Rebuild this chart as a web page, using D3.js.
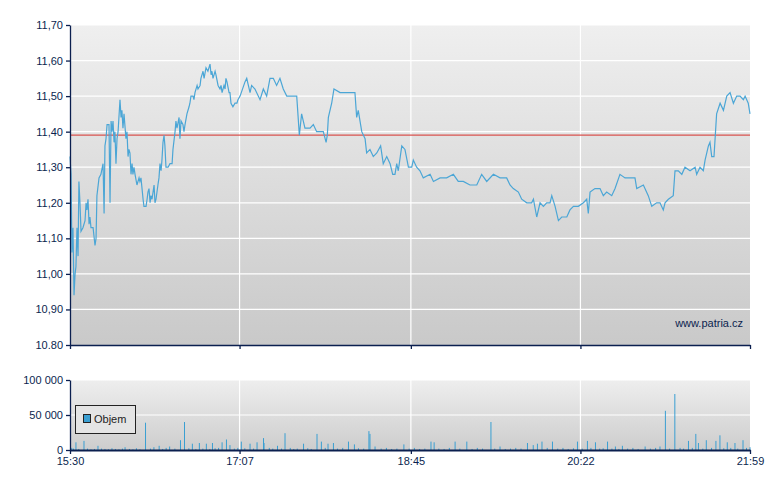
<!DOCTYPE html>
<html><head><meta charset="utf-8">
<script src="https://cdn.jsdelivr.net/npm/d3@7/dist/d3.min.js"></script>
<style>body{margin:0;background:#fff}text{font-family:"Liberation Sans",Arial,sans-serif}</style>
</head><body><svg id="c" width="780" height="490"></svg>
<script>
// minutes after 15:30
const priceTimes=[0,0.6,1.1,1.7,2.3,2.9,3.4,4.0,4.6,5.1,5.7,6.3,7.4,8.6,9.2,9.7,10.3,10.9,11.4,12.0,13.2,14.3,14.9,15.4,16.6,17.7,18.9,19.5,20.0,20.6,21.2,22.3,22.9,23.5,24.0,24.6,25.2,25.7,26.3,26.9,27.5,28.6,29.2,29.7,30.3,30.9,32.0,32.6,33.2,33.7,34.3,34.9,35.5,36.0,36.6,37.2,38.3,39.5,40.0,40.6,41.2,41.8,42.3,43.5,44.1,44.6,45.2,45.8,46.3,46.9,47.5,48.1,48.6,49.2,50.3,50.9,51.5,52.1,52.6,53.2,53.8,54.3,54.9,56.1,57.2,58.4,58.9,60.1,60.6,61.2,62.4,62.9,63.5,64.6,65.2,65.8,66.9,68.1,68.6,69.2,70.4,70.9,71.5,72.7,73.2,74.4,74.9,76.1,76.7,77.8,78.9,80.1,80.7,81.2,81.8,83.0,83.5,84.7,85.8,86.4,87.0,88.1,88.7,89.2,89.8,91.0,91.5,92.1,93.2,94.4,95.5,96.1,97.3,100.1,101.1,103.0,103.9,105.8,108.7,110.6,112.5,114.4,116.3,118.2,120.1,122.0,124.0,129.7,131.2,132.5,134.4,137.3,139.2,141.1,144.9,146.5,147.2,147.8,149.7,151.0,154.5,158.3,163.0,164.0,164.9,166.9,168.8,169.7,171.6,173.5,175.5,177.7,179.2,181.2,183.1,184.6,185.9,186.9,187.8,189.8,191.6,193.6,195.5,196.4,198.3,200.2,202.1,206.0,207.9,211.7,215.5,219.3,222.1,225.0,228.8,232.7,235.5,238.4,242.2,246.0,249.8,251.7,253.6,256.5,258.4,261.3,264.1,265.1,267.0,268.9,270.8,272.7,274.6,275.6,277.5,279.4,281.3,284.2,286.0,288.0,290.8,293.7,295.6,296.5,297.5,300.3,303.2,305.1,307.0,309.9,311.8,314.6,317.5,320.4,323.2,324.2,328.0,330.8,332.8,335.6,337.5,339.4,340.4,342.3,345.1,346.1,348.0,350.0,351.8,354.7,357.6,358.5,360.4,362.3,363.3,365.2,366.1,367.1,368.4,369.9,371.9,373.8,375.7,377.6,379.5,381.4,383.3,385.2,386.2,388.0,389];
const priceValues=[11.33,11.28,11.06,11.13,10.94,11.00,11.02,11.13,11.05,11.26,11.20,11.12,11.13,11.15,11.20,11.18,11.21,11.14,11.16,11.13,11.13,11.08,11.10,11.22,11.27,11.28,11.31,11.17,11.36,11.38,11.42,11.42,11.20,11.43,11.40,11.43,11.37,11.40,11.31,11.38,11.40,11.49,11.44,11.46,11.41,11.45,11.38,11.40,11.33,11.35,11.34,11.28,11.31,11.28,11.30,11.28,11.25,11.27,11.26,11.27,11.24,11.21,11.19,11.19,11.21,11.23,11.24,11.20,11.22,11.21,11.23,11.25,11.20,11.21,11.25,11.27,11.31,11.29,11.32,11.37,11.39,11.36,11.30,11.30,11.31,11.31,11.35,11.40,11.43,11.41,11.44,11.38,11.43,11.42,11.40,11.42,11.45,11.47,11.48,11.50,11.50,11.49,11.51,11.53,11.52,11.53,11.55,11.57,11.55,11.58,11.57,11.59,11.56,11.57,11.55,11.57,11.56,11.53,11.52,11.53,11.51,11.53,11.52,11.55,11.54,11.51,11.51,11.48,11.47,11.48,11.48,11.49,11.50,11.54,11.55,11.51,11.53,11.52,11.49,11.52,11.50,11.55,11.55,11.53,11.55,11.52,11.50,11.50,11.39,11.45,11.41,11.41,11.42,11.40,11.40,11.37,11.39,11.44,11.48,11.52,11.51,11.51,11.51,11.44,11.46,11.40,11.38,11.34,11.35,11.33,11.34,11.36,11.31,11.33,11.31,11.28,11.28,11.31,11.29,11.36,11.35,11.30,11.30,11.32,11.30,11.29,11.27,11.28,11.26,11.27,11.27,11.28,11.26,11.26,11.25,11.25,11.28,11.26,11.28,11.27,11.27,11.25,11.24,11.23,11.21,11.20,11.20,11.21,11.16,11.20,11.19,11.20,11.20,11.22,11.19,11.15,11.16,11.16,11.18,11.19,11.19,11.20,11.21,11.17,11.23,11.24,11.24,11.22,11.23,11.22,11.24,11.28,11.27,11.27,11.27,11.24,11.25,11.22,11.19,11.20,11.20,11.18,11.20,11.21,11.22,11.29,11.29,11.28,11.30,11.29,11.30,11.28,11.30,11.29,11.32,11.36,11.37,11.33,11.33,11.45,11.48,11.46,11.50,11.51,11.48,11.50,11.50,11.49,11.50,11.48,11.45];
const refPrice=11.39;
const volTimes=[1,2,3.4,5,8,10,12,14,16,18,20,22,24,26,28,30,31.5,34,36,38,40,43.2,46,48,51,53,55,57,60,63.2,65.5,68,70,72,74,76,78,80,81.5,83,85,87,89.5,91.5,94,96,98,100,103,105,107,110.7,111,114,116,118.7,121,123,126,128,130,133.6,136,138,141.3,143.8,146,147.6,150.7,153,156,159.3,162.7,165,168,171,171.6,174.5,178,181,184,187,191,194,197,200,203,206.5,208.3,211,214,217,220.3,223,227,230,233,236,240.8,243,246,249,252,255,258,261.7,265,267.4,270,273,276,279,282,285,288,290.3,293,296,298,300.6,303,305,307.5,310,312,314,316,319,322,325,329,332,335,337.5,340.6,343,346,349,351,353.8,356,358,359.5,362,364,367,369.5,371.8,374,376,378,380.4,382,385,387,389];
const volValues=[3000,2000,11000,1500,13000,2000,1000,1500,6000,2000,1500,1000,2500,1500,1000,2000,4000,1500,1000,2500,1000,39000,2000,4000,6000,1500,3000,5000,2000,14000,40000,2500,9000,1500,10000,2000,9000,1500,10000,2500,3000,11000,15000,7000,2000,3000,12000,2500,9000,2000,11000,17000,10000,3000,2000,6000,2000,24000,3000,1500,2000,9000,2500,1500,23000,12000,3000,9000,10000,2000,3000,12000,8000,2500,2000,27000,23000,5000,2000,3000,1500,2000,8000,2000,3000,1500,2000,12000,11000,2000,1500,3000,12000,2000,12000,1500,3000,2000,40000,2000,5000,1500,2000,3000,2000,10000,7000,9000,12000,3000,12000,2000,3000,1500,2500,12000,2000,13000,3000,11000,2000,2500,12000,2000,5000,1500,6000,2000,3000,1500,5000,2000,3000,5000,56000,2000,80000,3000,2000,13000,3000,23000,10000,2000,14000,3000,13000,21000,2500,11000,3000,10000,2000,14000,3000,4000];
const priceTicks=[10.8,10.9,11.0,11.1,11.2,11.3,11.4,11.5,11.6,11.7];
const volTicks=[0,50000,100000];
const timeTicks=[0,97,195,292,389];
const timeLabels=["15:30","17:07","18:45","20:22","21:59"];

const svg=d3.select("#c"), navy="#0b1f4f";
const L=70,R=750,T1=25,B1=345,T2=380,B2=450;
const x=d3.scaleLinear().domain([0,389]).range([L,R]);
const y=d3.scaleLinear().domain([10.8,11.7]).range([B1,T1]);
const yv=d3.scaleLinear().domain([0,100000]).range([B2,T2]);
const defs=svg.append("defs");
const g=defs.append("linearGradient").attr("id","bg").attr("x1",0).attr("x2",0).attr("y1",0).attr("y2",1);
g.append("stop").attr("offset",0).attr("stop-color","#efefef");
g.append("stop").attr("offset",1).attr("stop-color","#c9c9c9");
const g2=defs.append("linearGradient").attr("id","bg2").attr("x1",0).attr("x2",0).attr("y1",0).attr("y2",1);
g2.append("stop").attr("offset",0).attr("stop-color","#eeeeee");
g2.append("stop").attr("offset",1).attr("stop-color","#cdcdcd");
svg.append("rect").attr("x",L).attr("y",T1).attr("width",R-L).attr("height",B1-T1).attr("fill","url(#bg)");
svg.append("rect").attr("x",L).attr("y",T2).attr("width",R-L).attr("height",B2-T2).attr("fill","url(#bg2)");
// grids
svg.selectAll(".gy").data(priceTicks.slice(1)).join("line").attr("x1",L).attr("x2",R).attr("y1",d=>y(d)).attr("y2",d=>y(d)).attr("stroke","#fff").attr("stroke-width",1.2);
svg.selectAll(".gv").data(volTicks.slice(1)).join("line").attr("x1",L).attr("x2",R).attr("y1",d=>yv(d)).attr("y2",d=>yv(d)).attr("stroke","#fff").attr("stroke-width",1.2);
svg.selectAll(".gx").data(timeTicks.slice(1,4)).join("line").attr("x1",d=>x(d)).attr("x2",d=>x(d)).attr("y1",T1).attr("y2",B1).attr("stroke","#fff").attr("stroke-width",1.2);
svg.selectAll(".gx2").data(timeTicks.slice(1,4)).join("line").attr("x1",d=>x(d)).attr("x2",d=>x(d)).attr("y1",T2).attr("y2",B2).attr("stroke","#fff").attr("stroke-width",1.2);
// ref line
svg.append("line").attr("x1",L).attr("x2",R).attr("y1",y(refPrice)).attr("y2",y(refPrice)).attr("stroke","#d9534f").attr("stroke-width",1.3);
// price line
const pts=priceTimes.map((t,i)=>[t,priceValues[i]]);
svg.append("path").datum(pts).attr("d",d3.line().x(d=>x(d[0])).y(d=>y(d[1]))).attr("fill","none").attr("stroke","#4ba6d6").attr("stroke-width",1.2);
// volume bars
svg.selectAll(".vb").data(volTimes.map((t,i)=>[t,volValues[i]])).join("rect").attr("x",d=>x(d[0])-0.5).attr("width",1).attr("y",d=>yv(d[1])).attr("height",d=>B2-yv(d[1])).attr("fill","#3a9fd2");
// axes
const fmt=d=>d===10.8?"10.80":d3.format(".2f")(d).replace(".",",");
const ay=svg.append("g").attr("transform",`translate(${L},0)`).call(d3.axisLeft(y).tickValues(priceTicks).tickFormat(fmt).tickSize(4).tickSizeOuter(0));
const av=svg.append("g").attr("transform",`translate(${L},0)`).call(d3.axisLeft(yv).tickValues(volTicks).tickFormat(d=>d3.format(",")(d).replace(/,/g," ")).tickSize(4).tickSizeOuter(0));
const ax1=svg.append("g").attr("transform",`translate(0,${B1})`).call(d3.axisBottom(x).tickValues(timeTicks).tickFormat("").tickSize(4).tickSizeOuter(0));
const ax2=svg.append("g").attr("transform",`translate(0,${B2})`).call(d3.axisBottom(x).tickValues(timeTicks).tickFormat((d,i)=>timeLabels[i]).tickSize(4).tickSizeOuter(0));
[ay,av,ax1,ax2].forEach(a=>{a.selectAll("path,line").attr("stroke",navy).attr("stroke-width",1.3);a.selectAll("text").attr("fill",navy).style("font-size","11px");});
ax2.select(".domain").attr("stroke-width",2);
// legend
svg.append("rect").attr("x",75.5).attr("y",405.5).attr("width",60).attr("height",28).attr("fill","#e4e4e4").attr("stroke","#222");
svg.append("rect").attr("x",83.5).attr("y",414.5).attr("width",7).attr("height",8).attr("fill","#3a9fd2").attr("stroke","#222");
svg.append("text").attr("x",94).attr("y",423).text("Objem").attr("fill","#222").style("font-size","11px");
svg.append("text").attr("x",743).attr("y",327).attr("text-anchor","end").text("www.patria.cz").attr("fill",navy).style("font-size","11px");
</script></body></html>
